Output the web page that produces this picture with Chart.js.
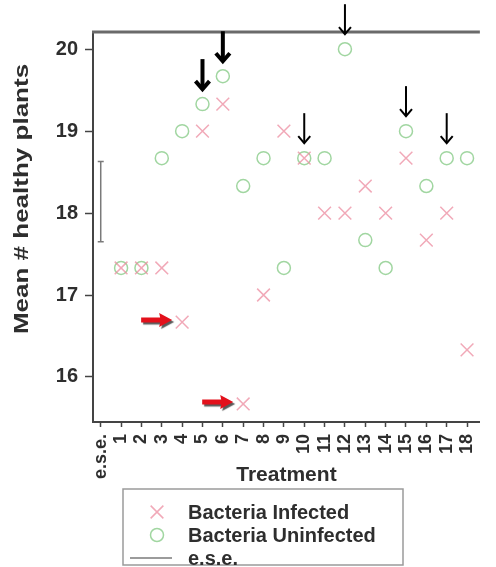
<!DOCTYPE html>
<html>
<head>
<meta charset="utf-8">
<script src="https://cdn.jsdelivr.net/npm/chart.js@4.4.0/dist/chart.umd.min.js"></script>
<style>
  html, body { margin: 0; padding: 0; background: #fff; }
  canvas { display: block; }
</style>
</head>
<body>
<canvas id="chartTreatment" width="496" height="567"></canvas>
<script>
// position 0 of the x axis holds the e.s.e. bar, treatments are 1..18
const xTickLabels = ['e.s.e.', '1', '2', '3', '4', '5', '6', '7', '8', '9', '10', '11', '12', '13', '14', '15', '16', '17', '18'];
const treatments = [1, 2, 3, 4, 5, 6, 7, 8, 9, 10, 11, 12, 13, 14, 15, 16, 17, 18];
const infected = [17.33, 17.33, 17.33, 16.67, 19.0, 19.33, 15.67, 17.0, 19.0, 18.67, 18.0, 18.0, 18.33, 18.0, 18.67, 17.67, 18.0, 16.33];
const uninfected = [17.33, 17.33, 18.67, 19.0, 19.33, 19.67, 18.33, 18.67, 17.33, 18.67, 18.67, 20.0, 17.67, 17.33, 19.0, 18.33, 18.67, 18.67];
const eseRange = [17.65, 18.63];
const yTicks = [16, 17, 18, 19, 20];

// annotated treatments
const blackArrows = [5, 6, 10, 12, 15, 17];
const boldArrows = [5, 6];
const redArrows = [4, 7];

const fontFamily = "'Liberation Sans', Arial, Helvetica, sans-serif";
const textColor = '#2e2e2e';

const toPoints = (values) => treatments.map((t, i) => ({ x: t, y: values[i] }));

/* arrows pointing at the highlighted treatments */
const arrowPlugin = {
  id: 'arrows',
  afterDraw(chart) {
    const ctx = chart.ctx;
    const xs = chart.scales.x;
    const ys = chart.scales.y;
    const area = chart.chartArea;

    // top frame line
    ctx.save();
    ctx.strokeStyle = '#6a6a6a';
    ctx.lineWidth = 3;
    ctx.beginPath();
    ctx.moveTo(area.left - 1, area.top);
    ctx.lineTo(area.right, area.top);
    ctx.stroke();
    ctx.restore();

    blackArrows.forEach((t) => {
      const bold = boldArrows.includes(t);
      const x = xs.getPixelForValue(t);
      const top = Math.max(infected[t - 1], uninfected[t - 1]);
      const tipY = ys.getPixelForValue(top) - 15;
      const len = 30;
      const head = bold ? 7 : 6;
      ctx.save();
      ctx.strokeStyle = '#000';
      ctx.lineWidth = bold ? 4 : 2;
      ctx.lineJoin = 'miter';
      ctx.beginPath();
      ctx.moveTo(x, tipY - len);
      ctx.lineTo(x, tipY - 1);
      ctx.stroke();
      ctx.beginPath();
      ctx.moveTo(x - head, tipY - head - 1);
      ctx.lineTo(x, tipY);
      ctx.lineTo(x + head, tipY - head - 1);
      ctx.stroke();
      ctx.restore();
    });

    redArrows.forEach((t) => {
      const tipX = xs.getPixelForValue(t) - 10;
      const y = ys.getPixelForValue(infected[t - 1]) - 2;
      ctx.save();
      ctx.shadowColor = 'rgba(0,0,0,0.65)';
      ctx.shadowOffsetX = 2;
      ctx.shadowOffsetY = 2;
      ctx.shadowBlur = 1;
      ctx.fillStyle = '#e3101b';
      ctx.beginPath();
      ctx.moveTo(tipX - 31, y - 2.5);
      ctx.lineTo(tipX - 12, y - 2.5);
      ctx.lineTo(tipX - 13, y - 7);
      ctx.lineTo(tipX, y);
      ctx.lineTo(tipX - 13, y + 7);
      ctx.lineTo(tipX - 12, y + 2.5);
      ctx.lineTo(tipX - 31, y + 2.5);
      ctx.closePath();
      ctx.fill();
      ctx.restore();
    });
  }
};

/* boxed legend under the axis and the y title */
const legendPlugin = {
  id: 'boxLegend',
  afterDraw(chart) {
    const ctx = chart.ctx;
    const box = { x: 123, y: 489, w: 280, h: 76 };
    ctx.save();
    ctx.strokeStyle = '#9a9a9a';
    ctx.lineWidth = 1.5;
    ctx.strokeRect(box.x, box.y, box.w, box.h);

    ctx.font = `bold 20px ${fontFamily}`;
    ctx.textBaseline = 'middle';
    chart.data.datasets.forEach((ds, i) => {
      const rowY = box.y + 23 + i * 23;
      if (ds.showLine) {
        ctx.strokeStyle = ds.borderColor;
        ctx.lineWidth = ds.borderWidth;
        ctx.beginPath();
        ctx.moveTo(box.x + 7, rowY);
        ctx.lineTo(box.x + 49, rowY);
        ctx.stroke();
      } else {
        ctx.strokeStyle = ds.borderColor;
        ctx.fillStyle = 'rgba(0,0,0,0)';
        ctx.lineWidth = ds.borderWidth;
        Chart.helpers.drawPoint(ctx, {
          pointStyle: ds.pointStyle,
          radius: ds.pointRadius,
          rotation: 0,
          borderWidth: ds.borderWidth
        }, box.x + 34, rowY);
      }
      ctx.fillStyle = textColor;
      ctx.fillText(ds.label, box.x + 65, rowY + 1);
    });
    ctx.restore();

    // y axis title, stretched along the text like the original
    ctx.save();
    ctx.translate(22, 199);
    ctx.rotate(-Math.PI / 2);
    ctx.scale(1.3, 1);
    ctx.font = `bold 20px ${fontFamily}`;
    ctx.fillStyle = textColor;
    ctx.textAlign = 'center';
    ctx.textBaseline = 'middle';
    ctx.fillText('Mean # healthy plants', 0, 0);
    ctx.restore();
  }
};

const cmc = document.getElementById('chartTreatment');

const chartTreatment = new Chart(cmc, {
  type: 'scatter',
  plugins: [arrowPlugin, legendPlugin],
  data: {
    datasets: [
      {
        label: 'Bacteria Infected',
        data: toPoints(infected),
        pointStyle: 'crossRot',
        pointRadius: 9,
        borderWidth: 1.5,
        borderColor: 'rgba(236,140,160,0.75)',
        backgroundColor: 'rgba(0,0,0,0)',
        showLine: false
      },
      {
        label: 'Bacteria Uninfected',
        data: toPoints(uninfected),
        pointStyle: 'circle',
        pointRadius: 6.5,
        borderWidth: 1.5,
        borderColor: 'rgba(130,200,130,0.75)',
        backgroundColor: 'rgba(0,0,0,0)',
        showLine: false
      },
      {
        label: 'e.s.e.',
        data: eseRange.map((v) => ({ x: 0, y: v })),
        showLine: true,
        borderColor: '#7a7a7a',
        borderWidth: 1.5,
        pointStyle: 'line',
        pointRadius: 3,
        pointBorderColor: '#7a7a7a',
        pointBorderWidth: 1.5
      }
    ]
  },
  options: {
    responsive: false,
    animation: false,
    layout: { padding: { top: 32, left: 0, right: 0, bottom: 0 } },
    plugins: {
      legend: { display: false },
      tooltip: { enabled: false }
    },
    scales: {
      x: {
        type: 'linear',
        min: -0.38,
        max: 18.63,
        afterBuildTicks: (axis) => {
          axis.ticks = xTickLabels.map((_, i) => ({ value: i }));
        },
        afterFit: (axis) => {
          axis.height = 145;
        },
        ticks: {
          autoSkip: false,
          minRotation: 90,
          maxRotation: 90,
          padding: 7,
          color: textColor,
          font: { size: 18, weight: 'bold', family: fontFamily },
          callback: (value, index) => xTickLabels[index]
        },
        grid: {
          drawOnChartArea: false,
          drawTicks: true,
          tickLength: 5,
          tickWidth: 1.5,
          color: '#444'
        },
        border: { display: true, color: '#444', width: 2 },
        title: {
          display: true,
          text: 'Treatment',
          color: textColor,
          font: { size: 21, weight: 'bold', family: fontFamily },
          padding: { top: 0, bottom: 79 }
        }
      },
      y: {
        min: 15.45,
        max: 20.21,
        afterBuildTicks: (axis) => {
          axis.ticks = yTicks.map((v) => ({ value: v }));
        },
        afterFit: (axis) => {
          axis.width = 93;
        },
        ticks: {
          padding: 7,
          color: textColor,
          font: { size: 20, weight: 'bold', family: fontFamily }
        },
        grid: {
          drawOnChartArea: false,
          drawTicks: true,
          tickLength: 8,
          tickWidth: 1.5,
          color: '#444'
        },
        border: { display: true, color: '#444', width: 2 }
      }
    }
  }
});
</script>
</body>
</html>
